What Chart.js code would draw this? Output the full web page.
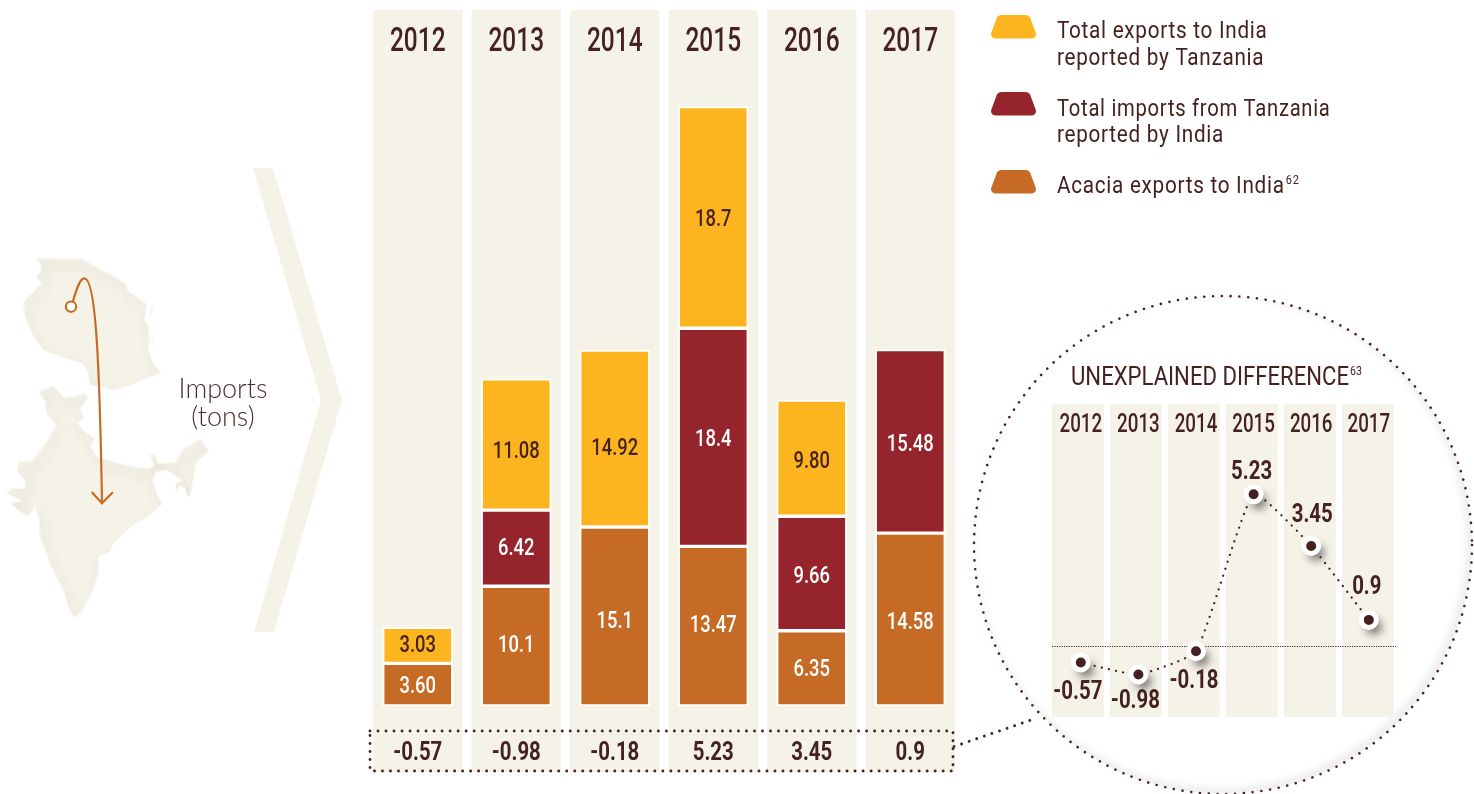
<!DOCTYPE html>
<html><head><meta charset="utf-8">
<style>html,body{margin:0;padding:0;background:#fff;overflow:hidden}canvas{position:absolute;left:0;top:0}</style>
<script src="https://cdn.jsdelivr.net/npm/chart.js@4"></script>
</head><body>
<canvas id="main" width="1474" height="794"></canvas>
<canvas id="inset" width="1474" height="794"></canvas>
<script>
const years = ['2012','2013','2014','2015','2016','2017'];
const acaciaExports = [3.60, 10.1, 15.1, 13.47, 6.35, 14.58];
const totalImports = [null, 6.42, null, 18.4, 9.66, 15.48];
const totalExports = [3.03, 11.08, 14.92, 18.7, 9.80, null];
const acaciaText = ['3.60','10.1','15.1','13.47','6.35','14.58'];
const importsText = ['','6.42','','18.4','9.66','15.48'];
const exportsText = ['3.03','11.08','14.92','18.7','9.80',''];
const difference = [-0.57, -0.98, -0.18, 5.23, 3.45, 0.9];
const exportsName = ['Total exports to India','reported by Tanzania'];
const importsName = ['Total imports from Tanzania','reported by India'];
const acaciaName = ['Acacia exports to India'];
const acaciaNote = '62';
const insetTitle = 'UNEXPLAINED DIFFERENCE';
const insetNote = '63';
const importsCaption = ['Imports','(tons)'];

const YELLOW='#fdb51f', RED='#96242c', ORANGE='#c66b25', INK='#45211f', PANEL='#f5f3e8';
const NARROW='Roboto,sans-serif';
Chart.defaults.animation=false;

// condensed text: every fillText on these canvases is squeezed horizontally by ctx.__sx
function condense(canvas){const ctx=canvas.getContext('2d');const orig=CanvasRenderingContext2D.prototype.fillText;
  ctx.__sx=1;ctx.fillText=function(s,x,y){ctx.save();ctx.translate(x,y);ctx.scale(ctx.__sx,1);orig.call(ctx,s,0,0);ctx.restore();};}
condense(document.getElementById('main'));condense(document.getElementById('inset'));

function dots(ctx,w,gap,color){ctx.strokeStyle=color||INK;ctx.lineWidth=w;ctx.lineCap='round';ctx.setLineDash([0.01,gap]);}
function poly(pts){const p=new Path2D();pts.forEach((a,i)=>i?p.lineTo(a[0],a[1]):p.moveTo(a[0],a[1]));p.closePath();return p;}
const tanzania=[[110,296],[245,296],[290,322],[350,352],[380,375],[382,392],[440,432],[436,465],[432,478],[445,495],[448,540],[445,570],[460,610],[482,638],[430,660],[380,680],[340,690],[300,680],[270,675],[265,640],[248,610],[200,595],[130,570],[100,530],[78,480],[68,430],[100,395],[125,370],[108,350],[125,330],[116,305]];
const india=[[115,695],[160,678],[180,700],[195,715],[255,700],[264,715],[240,745],[252,775],[232,790],[260,820],[285,835],[272,860],[290,890],[340,905],[400,920],[445,925],[462,918],[450,885],[462,880],[475,912],[530,905],[545,870],[605,835],[612,855],[628,870],[590,905],[582,945],[570,1012],[560,1005],[555,985],[540,975],[530,998],[525,975],[545,960],[500,930],[470,935],[458,960],[470,1000],[487,1032],[450,1065],[400,1095],[340,1150],[330,1175],[295,1190],[295,1240],[275,1300],[240,1362],[220,1372],[205,1340],[190,1290],[150,1210],[120,1130],[118,1080],[105,1040],[85,1068],[60,1055],[32,1030],[65,1022],[18,1000],[35,985],[75,985],[75,960],[52,935],[55,905],[95,905],[140,845],[170,795],[140,760],[135,725]];
function land(ctx,pts){const p=poly(pts);ctx.save();ctx.lineJoin='round';ctx.fillStyle=PANEL;ctx.strokeStyle=PANEL;ctx.lineWidth=3;ctx.fill(p);ctx.stroke(p);ctx.clip(p);
  ctx.shadowColor='rgba(60,55,40,.38)';ctx.shadowBlur=12;ctx.shadowOffsetX=3;ctx.shadowOffsetY=6;ctx.strokeStyle='#fff';ctx.lineWidth=3;ctx.stroke(p);ctx.restore();}

function chip(ctx,y,color){const x0=991,x1=1036,t=997,u=1030,h=23.5,r=5;ctx.fillStyle=color;ctx.beginPath();
  ctx.moveTo(t+r,y);ctx.lineTo(u-r,y);ctx.quadraticCurveTo(u,y,u+1,y+r);ctx.lineTo(x1,y+h-r);ctx.quadraticCurveTo(x1,y+h,x1-r,y+h);
  ctx.lineTo(x0+r,y+h);ctx.quadraticCurveTo(x0,y+h,x0,y+h-r);ctx.lineTo(t-1,y+r);ctx.quadraticCurveTo(t,y,t+r,y);ctx.fill();}

const backdrop={id:'backdrop',beforeDraw(c){const ctx=c.ctx,x=c.scales.x;ctx.save();
  // map (drawn in 3x zoom space)
  ctx.save();ctx.translate(0,160);ctx.scale(1/3,1/3);land(ctx,tanzania);land(ctx,india);
  ctx.fillStyle=PANEL;ctx.fillRect(452,440,6,18);ctx.fillRect(448,541,13,6);
  ctx.strokeStyle=ORANGE;ctx.lineWidth=6.5;ctx.lineCap='round';ctx.lineJoin='round';
  ctx.beginPath();ctx.moveTo(219,424);ctx.bezierCurveTo(230,385,240,355,253,355);ctx.bezierCurveTo(285,355,298,560,306,1030);ctx.stroke();
  ctx.beginPath();ctx.moveTo(277,998);ctx.lineTo(306,1030);ctx.lineTo(337,998);ctx.stroke();
  ctx.fillStyle='#fff';ctx.beginPath();ctx.arc(213,440,15.5,0,7);ctx.fill();ctx.stroke();ctx.restore();
  // chevron
  ctx.fillStyle=PANEL;ctx.beginPath();[[253,168],[273,168],[342,400],[274,632],[254,632],[321,400]].forEach((p,i)=>i?ctx.lineTo(p[0],p[1]):ctx.moveTo(p[0],p[1]));ctx.closePath();ctx.fill();
  ctx.__sx=1;ctx.fillStyle='#47302f';ctx.font='300 27px Lato,"Open Sans",sans-serif';ctx.textAlign='center';ctx.textBaseline='middle';
  ctx.fillText(importsCaption[0],223,389);ctx.fillText(importsCaption[1],223,417);
  // year panels
  ctx.fillStyle=PANEL;years.forEach((_,i)=>{const p=x.getPixelForValue(i);ctx.fillRect(p-44.75,10,89.5,762);});
  ctx.restore();ctx.__sx=0.74;},
 beforeDatasetsDraw(c){c.ctx.__sx=1;},
 afterDatasetsDraw(c){const ctx=c.ctx,x=c.scales.x;ctx.save();ctx.textAlign='center';ctx.textBaseline='middle';
  const texts=[acaciaText,importsText,exportsText];
  const nudge=[[2,0,5,0,2,3],[0,1,0,3,3,3],[1,7,10,2,4,0]];
  ctx.font='500 24.5px '+NARROW;ctx.__sx=0.75;
  c.data.datasets.forEach((d,k)=>{const m=c.getDatasetMeta(k);m.data.forEach((b,i)=>{if(d.data[i]==null)return;
    ctx.fillStyle=k===2?INK:'#fff';ctx.fillText(texts[k][i],b.x,(b.y+b.base)/2+nudge[k][i]);});});
  // difference row
  ctx.fillStyle=INK;ctx.font='bold 25.5px '+NARROW;ctx.__sx=0.8;
  difference.forEach((v,i)=>ctx.fillText(String(v),x.getPixelForValue(i),754));
  dots(ctx,2.9,8);ctx.strokeRect(370,731,583,40);
  ctx.beginPath();ctx.moveTo(954,746.5);ctx.lineTo(1037,718);ctx.stroke();ctx.setLineDash([]);
  // legend
  chip(ctx,15,YELLOW);chip(ctx,92,RED);chip(ctx,170,ORANGE);
  ctx.textAlign='left';ctx.fillStyle=INK;ctx.font='23px '+NARROW;ctx.letterSpacing='0.8px';ctx.__sx=0.9;
  ctx.fillText(exportsName[0],1057,32);ctx.fillText(exportsName[1],1057,59);
  ctx.fillText(importsName[1],1057,136);
  ctx.fillText(acaciaName[0],1057,187);
  const w=ctx.measureText(acaciaName[0]).width*0.9;
  ctx.__sx=0.88;ctx.fillText(importsName[0],1057,110);
  ctx.font='12.5px '+NARROW;ctx.fillText(acaciaNote,1057+w+1,181);
  ctx.letterSpacing='0px';ctx.__sx=1;
  ctx.restore();}};

new Chart(document.getElementById('main'),{type:'bar',
 data:{labels:years,datasets:[
  {label:acaciaName[0],data:acaciaExports,backgroundColor:ORANGE},
  {label:importsName.join(' '),data:totalImports,backgroundColor:RED},
  {label:exportsName.join(' '),data:totalExports,backgroundColor:YELLOW}
 ].map(d=>Object.assign(d,{borderColor:'#fff',borderWidth:2,borderSkipped:false,barThickness:70}))},
 options:{responsive:false,layout:{padding:{left:368.5,right:514.5,top:0,bottom:88}},
  plugins:{legend:{display:false},tooltip:{enabled:false}},
  scales:{x:{position:'top',stacked:true,grid:{display:false,drawTicks:false},border:{display:false},
     ticks:{color:INK,font:{family:NARROW,size:33,weight:'500'},padding:-3,maxRotation:0,autoSkip:false},afterFit(s){s.height=60;}},
   y:{stacked:true,display:false,min:0,max:54.5}}},
 plugins:[backdrop]});

const insetDecor={id:'insetDecor',beforeDraw(c){const ctx=c.ctx,x=c.scales.x;ctx.save();
  // lens
  const P=new Path2D();P.arc(1223,545,249,0,Math.PI*2);
  ctx.save();ctx.clip(P);ctx.shadowColor='rgba(0,0,0,.22)';ctx.shadowBlur=9;ctx.shadowOffsetX=-3;ctx.shadowOffsetY=-3;ctx.strokeStyle='#fff';ctx.lineWidth=3;
  ctx.beginPath();ctx.arc(1223,545,250.5,0,Math.PI*2);ctx.stroke();ctx.restore();
  dots(ctx,2.6,8.8);ctx.stroke(P);ctx.setLineDash([]);
  ctx.fillStyle=PANEL;years.forEach((_,i)=>ctx.fillRect(x.getPixelForValue(i)-29+i*0.4,404,52,313));
  ctx.restore();ctx.__sx=0.75;},
 beforeDatasetsDraw(c){const ctx=c.ctx,y=c.scales.y;ctx.save();
  // title
  ctx.fillStyle=INK;ctx.textAlign='left';ctx.textBaseline='middle';ctx.font='25px '+NARROW;ctx.__sx=1;
  const w=ctx.measureText(insetTitle).width,sx=278/w;ctx.__sx=sx;
  ctx.fillText(insetTitle,1071,379);
  ctx.font='12.5px '+NARROW;ctx.__sx=0.85;ctx.fillText(insetNote,1071+278+1,372);ctx.__sx=1;
  // zero line
  const z=Math.round(y.getPixelForValue(0))+0.5;ctx.strokeStyle=INK;ctx.lineWidth=1;ctx.setLineDash([1.2,1.2]);ctx.beginPath();ctx.moveTo(1052,z);ctx.lineTo(1396,z);ctx.stroke();ctx.setLineDash([]);
  // point shadows
  const m=c.getDatasetMeta(0);
  m.data.forEach(pt=>{ctx.save();ctx.shadowColor='rgba(0,0,0,.5)';ctx.shadowBlur=9;ctx.shadowOffsetX=2005;ctx.shadowOffsetY=5;ctx.fillStyle='#000';ctx.beginPath();ctx.arc(pt.x+5-2005,pt.y+2,8,0,7);ctx.fill();ctx.restore();});
  ctx.restore();},
 afterDatasetsDraw(c){const ctx=c.ctx;ctx.save();ctx.fillStyle=INK;ctx.font='bold 25.5px '+NARROW;ctx.__sx=0.8;ctx.textAlign='center';ctx.textBaseline='middle';
  const off=[[-3,30],[-3,27],[-2,30],[-2,-22],[1,-30],[-2,-32]];
  c.getDatasetMeta(0).data.forEach((pt,i)=>ctx.fillText(String(difference[i]),pt.x+off[i][0],pt.y+off[i][1]));
  ctx.__sx=1;ctx.restore();}};

new Chart(document.getElementById('inset'),{type:'line',
 data:{labels:years,datasets:[{data:difference,borderColor:INK,borderWidth:2.3,borderDash:[0.01,7.2],borderCapStyle:'round',
   tension:0.14,pointRadius:7.5,pointBorderWidth:5,pointBorderColor:'#fff',pointBackgroundColor:INK}]},
 options:{responsive:false,layout:{padding:{left:1052,right:76.4,top:404,bottom:77}},
  plugins:{legend:{display:false},tooltip:{enabled:false}},
  scales:{x:{position:'top',offset:true,grid:{display:false,drawTicks:false},border:{display:false},
     ticks:{color:INK,font:{family:NARROW,size:25,weight:'500'},padding:-1,maxRotation:0,autoSkip:false},afterFit(s){s.height=36;}},
   y:{display:false,min:-2.448,max:7.103}}},
 plugins:[insetDecor]});
</script>
</body></html>
